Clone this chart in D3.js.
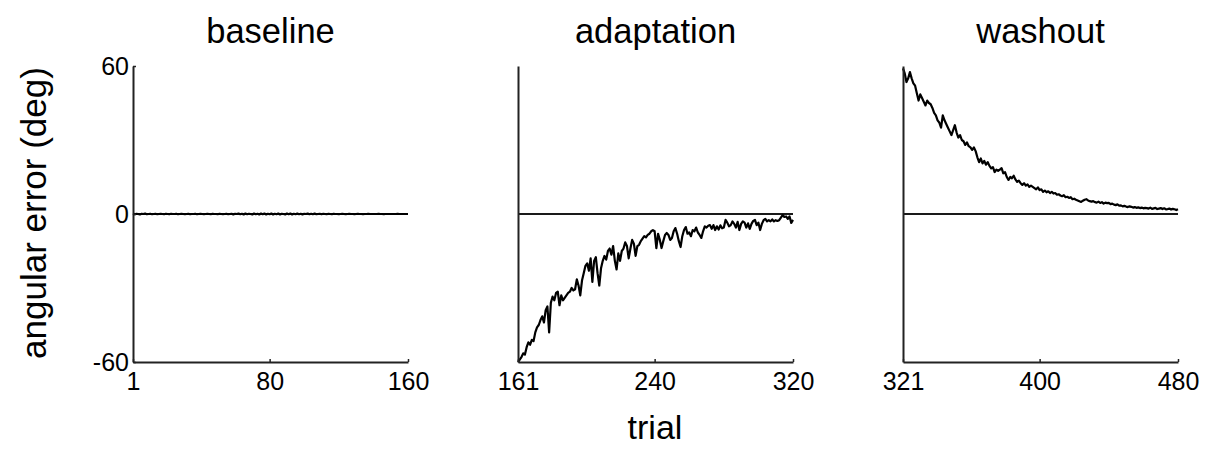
<!DOCTYPE html>
<html>
<head>
<meta charset="utf-8">
<script src="https://cdn.jsdelivr.net/npm/d3@7"></script>
<style>
  html, body { margin: 0; padding: 0; background: #fff; }
  svg { display: block; }
  text { font-family: Arial, "Liberation Sans", sans-serif; fill: #000; }
</style>
</head>
<body>
<svg id="chart" width="1210" height="449"></svg>
<script>
// Phase names and trial ranges
const phases = ["baseline", "adaptation", "washout"];
const phaseStart = [1, 161, 321];
const phaseEnd = [160, 320, 480];
const xTickLabels = [[1, 80, 160], [161, 240, 320], [321, 400, 480]];
const yTickLabels = [-60, 0, 60];

// Angular error per trial (deg)
const baselineError = [
  0.2, -0.1, 0.1, 0.0, -0.2, 0.1, 0.0, 0.2, -0.1, 0.0,
  0.1, -0.1, 0.0, 0.1, -0.1, 0.0, 0.1, 0.0, -0.1, 0.1,
  0.0, -0.1, 0.1, 0.0, 0.0, 0.1, -0.1, 0.0, 0.1, 0.0,
  -0.1, 0.0, 0.1, -0.1, 0.0, 0.0, 0.1, -0.1, 0.0, 0.1,
  0.0, -0.1, 0.0, 0.1, 0.0, -0.1, 0.1, 0.0, 0.0, -0.1,
  0.1, 0.0, -0.1, 0.0, 0.1, -0.1, 0.0, 0.1, -0.2, 0.1,
  0.0, 0.2, -0.1, 0.1, -0.2, 0.2, -0.1, 0.1, 0.0, -0.2,
  0.2, -0.1, 0.1, -0.2, 0.2, -0.1, 0.2, -0.2, 0.1, -0.1,
  0.2, -0.2, 0.1, -0.1, 0.2, -0.2, 0.1, 0.0, -0.2, 0.2,
  -0.1, 0.2, -0.2, 0.1, -0.1, 0.2, -0.1, 0.1, -0.2, 0.1,
  0.0, 0.2, -0.1, 0.1, -0.1, 0.2, -0.1, 0.0, 0.1, -0.1,
  0.1, 0.0, -0.1, 0.1, 0.0, -0.1, 0.1, 0.0, 0.0, -0.1,
  0.0, 0.1, 0.0, -0.1, 0.0, 0.1, 0.0, 0.0, -0.1, 0.0,
  0.1, 0.0, 0.0, -0.1, 0.0, 0.0, 0.1, 0.0, 0.0, 0.0,
  0.0, 0.0, 0.1, 0.0, 0.0, -0.1, 0.0, 0.0, 0.0, 0.0,
  0.0, 0.0, 0.0, 0.1, 0.0, 0.0, 0.0, 0.0, 0.0, 0.0
];

const adaptationError = [
  -60, -59, -58, -56.5, -57, -54, -52, -53, -51, -51.5,
  -48, -46, -45, -43, -41.5, -44, -39, -37.5, -48, -36,
  -33.5, -35, -32, -31.5, -37, -33, -35, -34, -33, -32,
  -31.5, -30, -31, -30.5, -26.5, -29, -33, -27, -24, -21,
  -20, -23, -18, -27.5, -19, -17.5, -24, -29, -22, -19,
  -17, -18.5, -15, -14, -16.5, -13, -19, -22.5, -16, -19,
  -15, -14, -11.5, -13, -18, -14, -10.5, -12, -17, -13,
  -12.5, -11, -10, -9, -9.5, -8.5, -8, -7, -6.5, -7,
  -13.8, -8, -10.5, -13.8, -11, -8.5, -7.7, -8.5, -10.5, -9.7,
  -7, -5.7, -8, -11, -13.4, -9, -6.5, -5.3, -8, -7.5,
  -9, -6.5, -7, -5.5, -7.5, -8.5, -9.7, -7, -5, -5.5,
  -4.8, -4.5, -6, -4.5, -6.5, -5, -6.3, -4.6, -5.8, -5.5,
  -2.4, -3.5, -5, -4.5, -3, -4, -5.5, -3.2, -6.5, -4,
  -3, -3.5, -5.5, -3.8, -6, -4, -2.8, -2.4, -4.5, -3.5,
  -6.5, -4, -2.5, -2, -3, -2.5, -3, -2.2, -3, -2.5,
  -2.8, -2.5, -1.5, -0.4, -1.2, -1, -2, -1, -3.6, -2.4
];

const washoutError = [
  59, 57, 53.5, 55, 57.5, 55, 53, 52, 49, 46,
  48.5, 47, 45.5, 44, 46, 45, 44.5, 43, 41, 40,
  38, 37, 35, 40, 38, 36.5, 35, 33.5, 32, 34,
  36, 33, 31, 32, 30, 29.5, 28, 29, 27.5, 27,
  26, 27, 25.5, 23, 21, 22.5, 20.5, 21.5, 20, 21,
  19.5, 18.5, 19, 17, 18, 17.5, 18, 18.6, 16.5, 17,
  15, 13.8, 15, 14.5, 15.5, 14, 13, 13.5, 12.5, 11.8,
  12.5, 11.5, 12, 11, 11.5, 11, 10.5, 10, 10.8, 9.7,
  10, 9, 9.5, 8.8, 9.2, 8.5, 9, 8.3, 8.5, 7.8,
  8, 7.5, 7.2, 7.6, 6.8, 7, 6.5, 6.8, 6, 6.2,
  5.8, 5.5, 5.2, 4.9, 5.4, 5.8, 6, 5.5, 5.2, 5,
  5.2, 4.8, 4.6, 5, 4.5, 4.8, 4.2, 4.6, 4.4, 4.5,
  4, 4.2, 3.8, 3.6, 3.9, 3.4, 3.5, 3.1, 3.3, 3,
  2.8, 3.1, 2.9, 2.6, 2.8, 2.5, 2.7, 2.4, 2.6, 2.3,
  2.5, 2.4, 2.2, 2.6, 2.1, 2.3, 2.5, 2, 2.2, 2.4,
  2, 2.3, 1.9, 2, 2.2, 1.8, 2.1, 1.9, 1.6, 1.9
];

const seriesByPhase = [baselineError, adaptationError, washoutError];

const svg = d3.select("#chart");

const panelLeft = [133, 518, 903];
const panelWidth = 275;
const plotTop = 66, plotBottom = 362;
const fontStack = "Arial, 'Liberation Sans', sans-serif";
// plain hyphen-minus for negative labels
const plainNumber = d => String(d);

const y = d3.scaleLinear().domain([-60, 60]).range([plotBottom, plotTop]);

phases.forEach((name, i) => {
  const x = d3.scaleLinear()
    .domain([phaseStart[i], phaseEnd[i]])
    .range([panelLeft[i], panelLeft[i] + panelWidth]);

  const g = svg.append("g").attr("class", "panel");

  // zero reference line
  g.append("line")
    .attr("x1", x.range()[0]).attr("x2", x.range()[1])
    .attr("y1", y(0)).attr("y2", y(0))
    .attr("stroke", "#1a1a1a").attr("stroke-width", 2);

  // trial-by-trial error trace
  const values = seriesByPhase[i];
  const line = d3.line()
    .x((d, k) => x(phaseStart[i] + k))
    .y(d => y(d));
  g.append("path")
    .datum(values)
    .attr("d", line)
    .attr("fill", "none")
    .attr("stroke", "#000")
    .attr("stroke-width", 2.2)
    .attr("stroke-linejoin", "round");

  // x axis
  const xAxis = d3.axisBottom(x)
    .tickValues(xTickLabels[i])
    .tickFormat(plainNumber)
    .tickSizeInner(-3)
    .tickSizeOuter(0)
    .tickPadding(10);
  const gx = g.append("g")
    .attr("transform", `translate(0,${plotBottom})`)
    .call(xAxis);
  gx.select(".domain").attr("stroke", "#222").attr("stroke-width", 2);
  gx.selectAll(".tick line").attr("stroke", "#222").attr("stroke-width", 1.5);
  gx.selectAll(".tick text")
    .attr("font-size", 25)
    .attr("fill", "#000")
    .attr("font-family", fontStack);

  // y axis (labels only on the first panel)
  const yAxis = d3.axisLeft(y)
    .tickValues(yTickLabels)
    .tickSizeInner(i === 0 ? -3 : 0)
    .tickSizeOuter(0)
    .tickPadding(4)
    .tickFormat(i === 0 ? plainNumber : () => "");
  const gy = g.append("g")
    .attr("transform", `translate(${x.range()[0]},0)`)
    .call(yAxis);
  gy.select(".domain").attr("stroke", "#222").attr("stroke-width", 2);
  gy.selectAll(".tick line").attr("stroke", "#222").attr("stroke-width", 1.5);
  gy.selectAll(".tick text")
    .attr("font-size", 25)
    .attr("fill", "#000")
    .attr("font-family", fontStack);

  // phase title
  svg.append("text")
    .attr("x", (x.range()[0] + x.range()[1]) / 2)
    .attr("y", 43)
    .attr("text-anchor", "middle")
    .attr("font-size", 34.5)
    .text(name);
});

// axis titles
svg.append("text")
  .attr("x", 655)
  .attr("y", 439)
  .attr("text-anchor", "middle")
  .attr("font-size", 34)
  .text("trial");

svg.append("text")
  .attr("transform", "translate(46,213) rotate(-90)")
  .attr("text-anchor", "middle")
  .attr("font-size", 35)
  .text("angular error (deg)");
</script>
</body>
</html>
